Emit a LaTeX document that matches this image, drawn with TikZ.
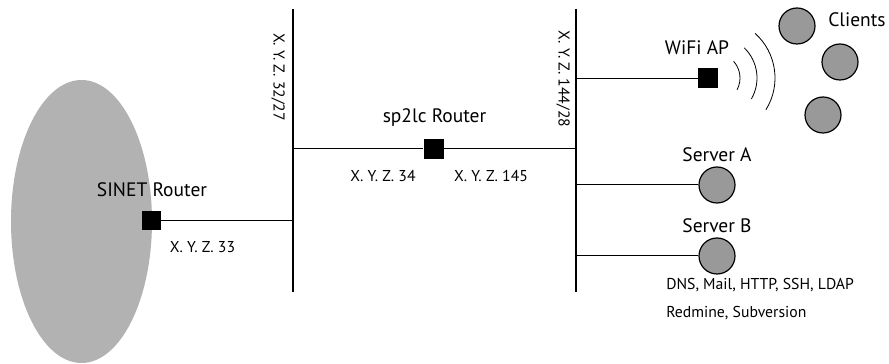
\documentclass[tikz,border=0pt]{standalone}
\usepackage{fontspec}
\setmainfont{PT Sans}
\usetikzlibrary{shapes.geometric}
\begin{document}
\begin{tikzpicture}[
					x=0.75pt,y=0.75pt,
					router/.style={rectangle,fill=black,inner sep=0pt,minimum size=15pt},
					host/.style={circle,draw,fill=gray!80,line width=0.9pt,inner sep=0pt,minimum size=27pt},
					bus/.style={draw,line width=0.9pt},
					link/.style={draw,line width=0.75pt},
					biglab/.style={font=\fontsize{14.6}{17}\selectfont,inner sep=0pt},
					addr/.style={font=\fontsize{11.8}{14}\selectfont,inner sep=0pt}
					]
					\useasboundingbox (0,0) rectangle (889,364);
					% SINET cloud
					\node[ellipse,fill=gray!60,minimum width=105.75pt,minimum height=212.25pt,inner sep=0pt] (sinet) at (81.5,142.5) {};
					\node[router,minimum size=14pt] (rsinet) at (151.5,143.5) {};
					\node[biglab] (lsinet) at (152,174) {SINET Router};
					% segments
					\coordinate (b1top) at (293,355);
					\coordinate (b1bot) at (293,72);
					\coordinate (b2top) at (576,355);
					\coordinate (b2bot) at (576,72);
					\draw[bus] (b1top) -- (b1bot);
					\draw[bus] (b2top) -- (b2bot);
					\node[addr,rotate=-90] (n1) at (278,287) {X. Y. Z. 32/27};
					\node[addr,rotate=-90] (n2) at (563,285) {X. Y. Z. 144/28};
					\draw[link] (rsinet) -- (rsinet -| b1top);
					\node[addr] (a33) at (202.5,117) {X. Y. Z. 33};
					% sp2lc router
					\node[router] (rsp) at (433.5,215) {};
					\node[biglab] (lsp) at (434.5,246) {sp2lc Router};
					\draw[link] (rsp -| b1top) -- (rsp) -- (rsp -| b2top);
					\node[addr] (a34) at (383,188) {X. Y. Z. 34};
					\node[addr] (a145) at (491,188) {X. Y. Z. 145};
					% wifi
					\node[router] (ap) at (708,285.5) {};
					\node[biglab] (lap) at (697,316) {WiFi AP};
					\draw[link] (ap -| b2top) -- (ap);
					\foreach \r/\s/\e in {25/-28/42,42/-30/46,60/-32/48}{
						\draw[line width=0.6pt] (715,286) ++(\s:\r) arc[start angle=\s,end angle=\e,radius=\r];
					}
					\foreach \i/\x/\y in {1/797/338,2/840/302,3/823/249}{
						\node[host] (c\i) at (\x,\y) {};
					}
					\node[biglab,anchor=west] (lcl) at (828,344) {Clients};
					% servers
					\foreach \s/\y in {A/179,B/108}{
						\node[host] (s\s) at (717,\y) {};
						\node[biglab] (ls\s) at (717,\y+30) {Server \s};
						\draw[link] (s\s -| b2top) -- (s\s);
					}
					\node[addr,anchor=west] (svc1) at (666,79) {DNS, Mail, HTTP, SSH, LDAP};
					\node[addr,anchor=west] (svc2) at (666,51) {Redmine, Subversion};
				\end{tikzpicture}
\end{document}
